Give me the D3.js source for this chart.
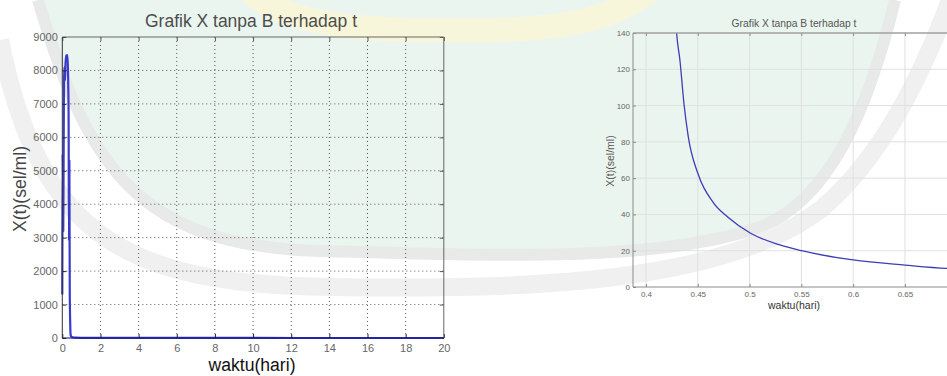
<!DOCTYPE html>
<html>
<head>
<meta charset="utf-8">
<script src="https://cdn.jsdelivr.net/npm/d3@7/dist/d3.min.js"></script>
<style>
  html, body { margin: 0; padding: 0; background: #ffffff; }
  svg { display: block; font-family: "Liberation Sans", Arial, sans-serif; }
</style>
</head>
<body>
<svg id="chart" width="947" height="376"></svg>
<script>
// Simulated cell count X(t) without B, in cells/ml, against time in days
const timeDays = [0, 0.02, 0.05, 0.08, 0.11, 0.14, 0.17, 0.2, 0.24, 0.28, 0.31, 0.33, 0.35, 0.37, 0.39, 0.41, 0.42,
                  0.4296, 0.4328, 0.4367, 0.4408, 0.4505, 0.465, 0.4795, 0.501, 0.5293, 0.5503, 0.6, 0.65, 0.69,
                  1, 2, 5, 10, 15, 20];
const cellsPerMl = [1300, 5500, 3200, 6800, 8100, 7700, 8200, 8450, 8450, 8450, 7600, 6700, 2900, 5300, 1500, 550, 300,
                    140, 125, 101, 83, 62, 46.5, 38.3, 29.6, 23.2, 20, 14.9, 12.1, 10.3,
                    6, 3, 1.5, 0.8, 0.5, 0.4];

// Axis ticks: full run (left) and zoom on the decay (right)
const fullXTicks = [0, 2, 4, 6, 8, 10, 12, 14, 16, 18, 20];
const fullYTicks = [0, 1000, 2000, 3000, 4000, 5000, 6000, 7000, 8000, 9000];
const zoomXTicks = [0.4, 0.45, 0.5, 0.55, 0.6, 0.65];
const zoomYTicks = [0, 20, 40, 60, 80, 100, 120, 140];

const chartTitle = "Grafik X tanpa B terhadap t";
const xTitle = "waktu(hari)";
const yTitle = "X(t)(sel/ml)";

const series = timeDays.map((t, i) => ({ t, x: cellsPerMl[i] }));

const svg = d3.select("#chart");
const W = 947, H = 376;

// ---------- faint library emblem in the background ----------
const wm = svg.append("g").attr("class", "emblem");
wm.append("rect").attr("width", W).attr("height", H).attr("fill", "#ffffff");
wm.append("path")
  .attr("d", "M 38,0 C 88,170 140,246 320,251 C 500,256 660,262 760,227 C 830,200 868,110 895,0 Z")
  .attr("fill", "#ebf5ef");
wm.append("path")
  .attr("d", "M 38,0 C 88,170 140,246 320,251 C 500,256 660,262 760,227 C 830,200 868,110 895,0")
  .attr("fill", "none").attr("stroke", "#e7eae8").attr("stroke-width", 12);
wm.append("path")
  .attr("d", "M 0,40 C 40,240 130,284 330,287 C 520,290 720,285 820,210 C 880,160 920,80 950,0")
  .attr("fill", "none").attr("stroke", "#f0f0f0").attr("stroke-width", 18);
wm.append("path")
  .attr("d", "M 250,-8 C 300,34 400,30 480,30 C 560,30 612,20 648,-8")
  .attr("fill", "none").attr("stroke", "#f8f6da").attr("stroke-width", 24).attr("stroke-linecap", "round");

// ---------- left: full simulation, MATLAB style ----------
const L = { left: 62.3, right: 443.8, top: 37, bottom: 338 };
const xL = d3.scaleLinear().domain([0, 20]).range([L.left, L.right]);
const yL = d3.scaleLinear().domain([0, 9000]).range([L.bottom, L.top]);
const gl = svg.append("g");

// dotted grid
gl.append("g").selectAll("line").data(fullXTicks.slice(1, -1)).join("line")
  .attr("x1", d => xL(d)).attr("x2", d => xL(d)).attr("y1", L.top).attr("y2", L.bottom)
  .attr("stroke", "#222").attr("stroke-width", 1).attr("stroke-dasharray", "1,3").attr("opacity", 0.75);
gl.append("g").selectAll("line").data(fullYTicks.slice(1, -1)).join("line")
  .attr("y1", d => yL(d)).attr("y2", d => yL(d)).attr("x1", L.left).attr("x2", L.right)
  .attr("stroke", "#222").attr("stroke-width", 1).attr("stroke-dasharray", "1,3").attr("opacity", 0.75);

// curve
gl.append("path").datum(series)
  .attr("d", d3.line().curve(d3.curveMonotoneX).x(d => xL(d.t)).y(d => yL(d.x)))
  .attr("fill", "none").attr("stroke", "#3a3acc").attr("stroke-width", 2.2)
  .attr("stroke-linejoin", "round");

// axes with inward ticks
function styleAxis(g, color, size) {
  g.select(".domain").remove();
  g.selectAll(".tick line").attr("stroke", color);
  g.selectAll(".tick text").attr("fill", "#666").attr("font-size", size)
    .attr("font-family", "\"Liberation Sans\", Arial, sans-serif");
}
gl.append("g").attr("transform", `translate(${L.left},0)`)
  .call(d3.axisLeft(yL).tickValues(fullYTicks).tickSize(-4).tickPadding(4.5).tickFormat(d3.format("d")))
  .call(g => styleAxis(g, "#222", 11));
gl.append("g").attr("transform", `translate(0,${L.bottom})`)
  .call(d3.axisBottom(xL).tickValues(fullXTicks).tickSize(-4).tickPadding(6.5).tickFormat(d3.format("d")))
  .call(g => styleAxis(g, "#222", 11));
gl.append("g").attr("transform", `translate(0,${L.top})`)
  .call(d3.axisTop(xL).tickValues(fullXTicks).tickSize(-4).tickFormat(""))
  .call(g => styleAxis(g, "#555", 11));
gl.append("g").attr("transform", `translate(${L.right},0)`)
  .call(d3.axisRight(yL).tickValues(fullYTicks).tickSize(-4).tickFormat(""))
  .call(g => styleAxis(g, "#555", 11));

gl.append("line").attr("x1", L.left).attr("x2", L.right).attr("y1", L.top).attr("y2", L.top).attr("stroke", "#666");
gl.append("line").attr("x1", L.right).attr("x2", L.right).attr("y1", L.top).attr("y2", L.bottom).attr("stroke", "#666");
gl.append("line").attr("x1", L.left).attr("x2", L.left).attr("y1", L.top).attr("y2", L.bottom).attr("stroke", "#333");
gl.append("line").attr("x1", L.left).attr("x2", L.right).attr("y1", L.bottom).attr("y2", L.bottom).attr("stroke", "#10107a").attr("stroke-width", 1.2);

gl.append("text").attr("x", 251).attr("y", 27).attr("text-anchor", "middle")
  .attr("font-size", 17.5).attr("fill", "#4d4d4d").text(chartTitle);
gl.append("text").attr("x", 252).attr("y", 371).attr("text-anchor", "middle")
  .attr("font-size", 17.6).attr("fill", "#111").text(xTitle);
gl.append("text").attr("transform", "translate(26,189) rotate(-90)").attr("text-anchor", "middle")
  .attr("font-size", 17.6).attr("fill", "#444").text(yTitle);

// ---------- right: zoom on the decay after the peak ----------
const R = { left: 633, top: 33, bottom: 287 };
const xR = d3.scaleLinear().domain([0.3875, 0.7125]).range([R.left, R.left + 6.5 * 51.8]);
const yR = d3.scaleLinear().domain([0, 140]).range([R.bottom, R.top]);
const gr = svg.append("g");

svg.append("defs").append("clipPath").attr("id", "zoomClip")
  .append("rect").attr("x", R.left).attr("y", R.top).attr("width", W - R.left).attr("height", R.bottom - R.top);

gr.append("g").selectAll("line").data(zoomXTicks).join("line")
  .attr("x1", d => xR(d)).attr("x2", d => xR(d)).attr("y1", R.top).attr("y2", R.bottom)
  .attr("stroke", "#e0e0e0").attr("stroke-width", 1);
gr.append("g").selectAll("line").data(zoomYTicks.slice(1, -1)).join("line")
  .attr("y1", d => yR(d)).attr("y2", d => yR(d)).attr("x1", R.left).attr("x2", W)
  .attr("stroke", "#e0e0e0").attr("stroke-width", 1);

gr.append("path").datum(series)
  .attr("clip-path", "url(#zoomClip)")
  .attr("d", d3.line().curve(d3.curveMonotoneX).x(d => xR(d.t)).y(d => yR(d.x)))
  .attr("fill", "none").attr("stroke", "#3d3db4").attr("stroke-width", 1.3);

gr.append("g").attr("transform", `translate(${R.left},0)`)
  .call(d3.axisLeft(yR).tickValues(zoomYTicks).tickSize(-3).tickPadding(3))
  .call(g => styleAxis(g, "#888", 8));
gr.append("g").attr("transform", `translate(0,${R.bottom})`)
  .call(d3.axisBottom(xR).tickValues(zoomXTicks).tickSize(-3).tickPadding(4).tickFormat(d3.format("")))
  .call(g => styleAxis(g, "#888", 8));
gr.append("g").attr("transform", `translate(0,${R.top})`)
  .call(d3.axisTop(xR).tickValues(zoomXTicks).tickSize(-3).tickFormat(""))
  .call(g => styleAxis(g, "#888", 8));

gr.append("line").attr("x1", R.left).attr("x2", W).attr("y1", R.top).attr("y2", R.top).attr("stroke", "#a0a0a0").attr("stroke-width", 1.3);
gr.append("line").attr("x1", R.left).attr("x2", W).attr("y1", R.bottom).attr("y2", R.bottom).attr("stroke", "#8a8a8a");
gr.append("line").attr("x1", R.left).attr("x2", R.left).attr("y1", R.top).attr("y2", R.bottom).attr("stroke", "#8a8a8a");

gr.append("text").attr("x", 794).attr("y", 26.5).attr("text-anchor", "middle")
  .attr("font-size", 10.3).attr("fill", "#555").text(chartTitle);
gr.append("text").attr("x", 794).attr("y", 309).attr("text-anchor", "middle")
  .attr("font-size", 10.5).attr("fill", "#333").text(xTitle);
gr.append("text").attr("transform", "translate(614,161) rotate(-90)").attr("text-anchor", "middle")
  .attr("font-size", 10.5).attr("fill", "#555").text(yTitle);
</script>
</body>
</html>
